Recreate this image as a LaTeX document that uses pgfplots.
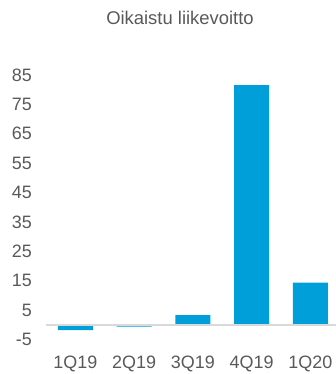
\documentclass[border=0pt]{standalone}
\usepackage{pgfplots}
\pgfplotsset{compat=1.18}
\usepackage{fontspec}
\setmainfont{Liberation Sans}
\definecolor{barblue}{RGB}{0,159,218}
\definecolor{txtgray}{RGB}{89,89,89}
\definecolor{zerogray}{RGB}{217,217,217}
\begin{document}
\begin{tikzpicture}
\useasboundingbox (0,0) rectangle (336bp,374bp);
\node[anchor=base, text=txtgray, font=\fontsize{18.5}{21}\selectfont, inner sep=0pt] at (180bp,349bp) {Oikaistu liikevoitto};
\begin{axis}[
  at={(46bp,25.4bp)}, anchor=south west,
  scale only axis, width=290.2bp, height=303.2bp,
  xmin=-0.5, xmax=4.44, ymin=-8, ymax=95,
  axis line style={draw=none}, major tick length=0pt, tick style={draw=none},
  ybar, bar width=35bp,
  ytick={-5,5,...,85}, xtick={0,...,4},
  xticklabels={1Q19,2Q19,3Q19,4Q19,1Q20},
  ticklabel style={font=\fontsize{18}{21}\selectfont, text=txtgray},
  /pgf/number format/assume math mode=true,
  yticklabel style={anchor=east, inner sep=0pt, xshift=-14bp},
  xticklabel style={anchor=north, inner sep=0pt, yshift=-7bp},
  clip=false,
]
\addplot[fill=barblue, draw=none] coordinates {(0,-1.7) (1,-0.5) (2,3.4) (3,81.5) (4,14.4)};
\draw[zerogray, line width=1.5bp] (axis cs:-0.5,0) -- (axis cs:4.44,0);
\end{axis}
\end{tikzpicture}
\end{document}
